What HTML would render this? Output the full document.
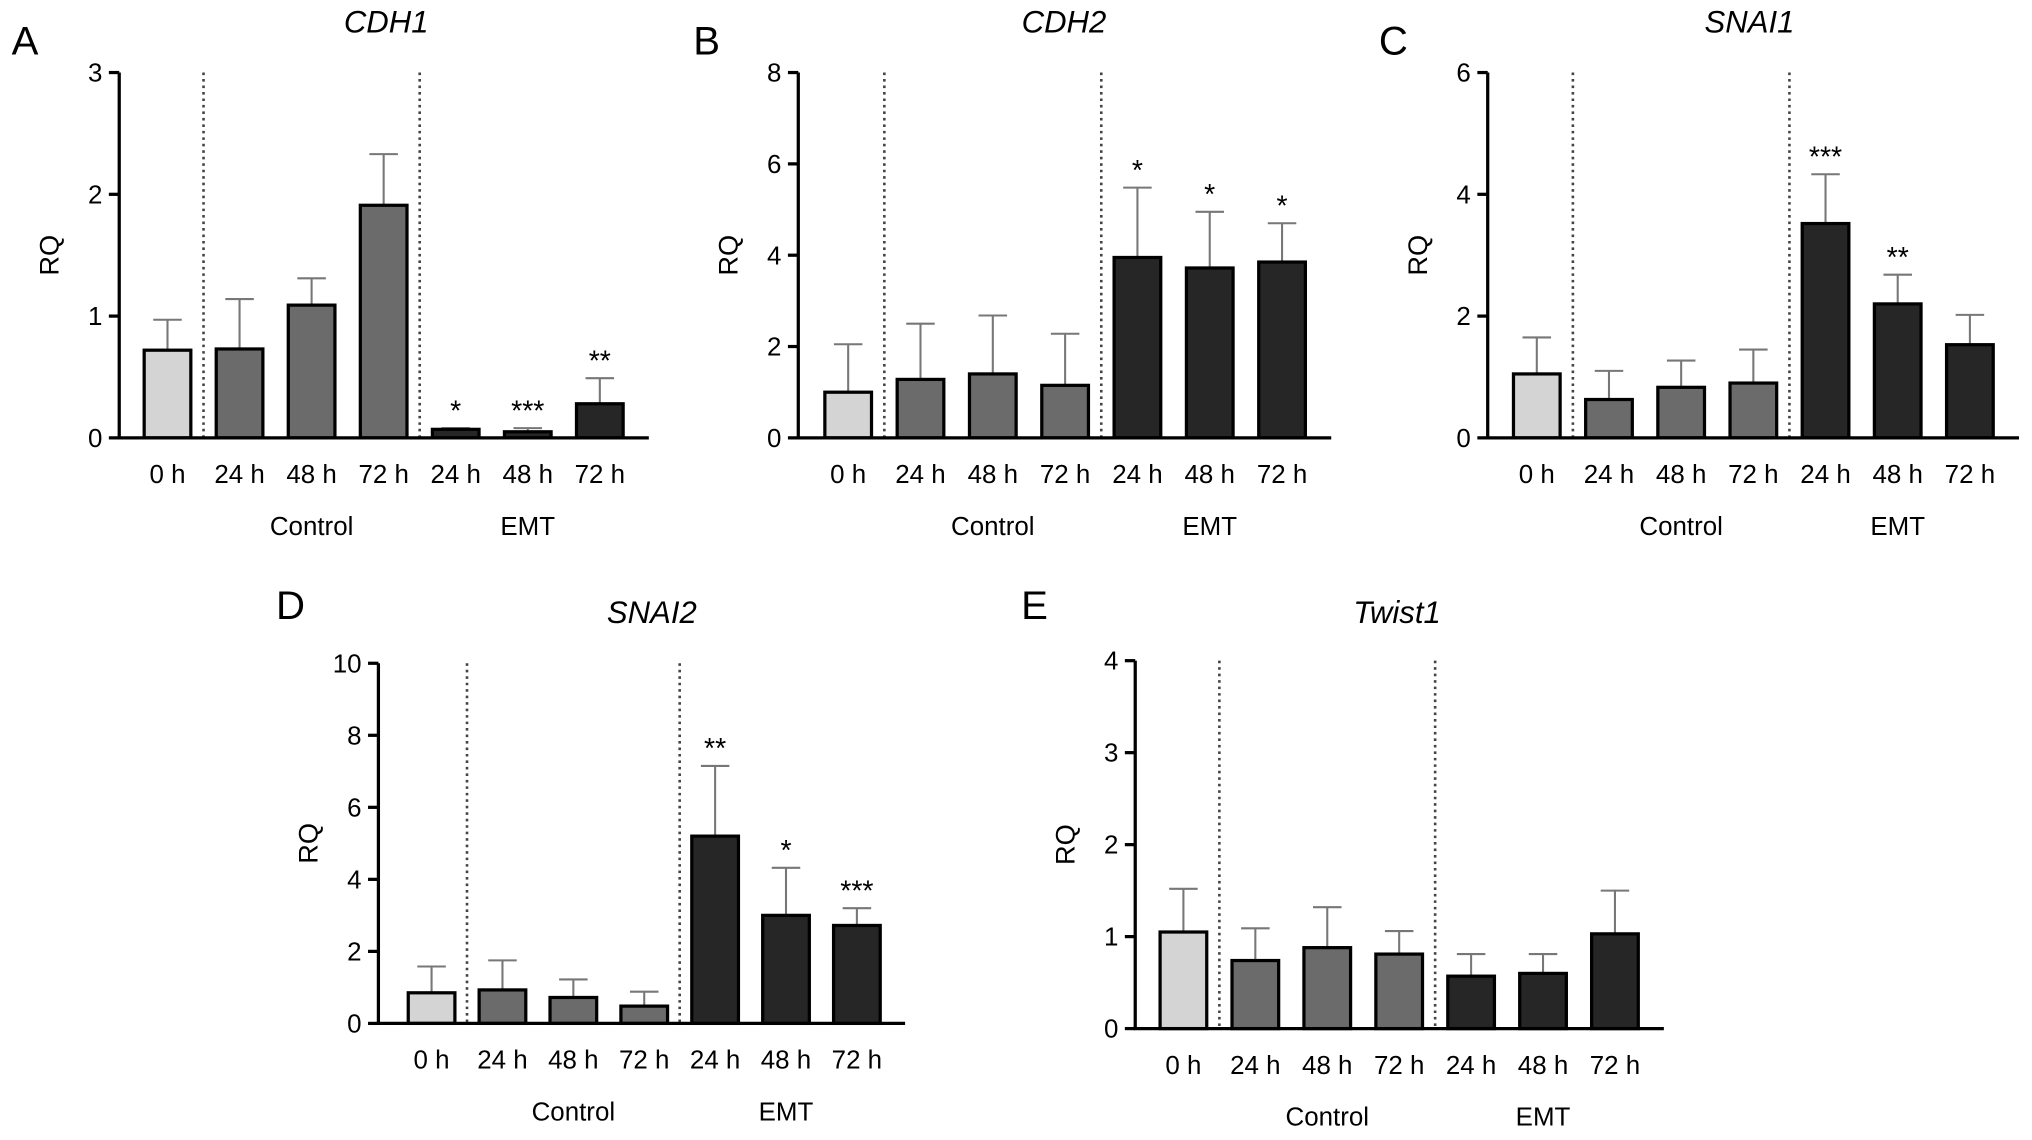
<!DOCTYPE html>
<html><head><meta charset="utf-8">
<style>
html,body{margin:0;padding:0;background:#fff;}
svg{display:block;font-family:"Liberation Sans",Arial,sans-serif;}
</style></head>
<body>
<svg id="fig" width="2032" height="1140" viewBox="0 0 1568 880" preserveAspectRatio="none" xmlns="http://www.w3.org/2000/svg"></svg>
<script>
const categories = ["0 h","24 h","48 h","72 h","24 h","48 h","72 h"];
const groups = ["base","ctrl","ctrl","ctrl","emt","emt","emt"];
const cdh1Values = [0.72,0.73,1.09,1.91,0.07,0.05,0.28];
const cdh1Errors = [0.25,0.41,0.22,0.42,0.01,0.03,0.21];
const cdh1Stars = ["","","","","*","***","**"];
const cdh1Ticks = [0,1,2,3];
const cdh2Values = [1.0,1.28,1.4,1.15,3.95,3.72,3.85];
const cdh2Errors = [1.05,1.22,1.28,1.13,1.53,1.23,0.85];
const cdh2Stars = ["","","","","*","*","*"];
const cdh2Ticks = [0,2,4,6,8];
const snai1Values = [1.05,0.63,0.83,0.9,3.52,2.2,1.53];
const snai1Errors = [0.6,0.47,0.44,0.55,0.81,0.48,0.49];
const snai1Stars = ["","","","","***","**",""];
const snai1Ticks = [0,2,4,6];
const snai2Values = [0.85,0.93,0.72,0.48,5.2,3.0,2.72];
const snai2Errors = [0.73,0.82,0.5,0.4,1.95,1.32,0.48];
const snai2Stars = ["","","","","**","*","***"];
const snai2Ticks = [0,2,4,6,8,10];
const twist1Values = [1.05,0.74,0.88,0.81,0.57,0.6,1.03];
const twist1Errors = [0.47,0.35,0.44,0.25,0.24,0.21,0.47];
const twist1Stars = ["","","","","","",""];
const twist1Ticks = [0,1,2,3,4];

const NS="http://www.w3.org/2000/svg";
const svg=document.getElementById('fig');
function mk(tag,attrs,parent){const e=document.createElementNS(NS,tag);for(const k in attrs)e.setAttribute(k,attrs[k]);(parent||svg).appendChild(e);return e;}
const fills={base:"#d4d4d4",ctrl:"#6b6b6b",emt:"#262626"};

function panel(cfg){
  const g=mk('g',{});
  
  
  const max=cfg.ticks[cfg.ticks.length-1];
  const off=cfg.off;
  const y=v=>cfg.y0-(v/max)*(cfg.y0-cfg.yTop);
  const x=i=>cfg.x0+cfg.step*(i+off);
  const xEnd=x(6)+cfg.step*0.68;
  const bw=36;
  let t=mk('text',{x:cfg.letterX,y:cfg.letterY,'font-size':31,fill:'#000'},g);t.textContent=cfg.letter;
  
  t=mk('text',{x:cfg.titleX,y:cfg.titleY,'font-size':24,'font-style':'italic','text-anchor':'middle'},g);t.textContent=cfg.title;
  
  t=mk('text',{x:0,y:0,'font-size':21,'text-anchor':'middle',transform:`translate(${cfg.x0-47},${(cfg.y0+cfg.yTop)/2}) rotate(-90)`},g);t.textContent='RQ';
  
  [0.5,3.5].forEach(p=>{const xx=x(p);
    const l=mk('line',{x1:xx,x2:xx,y1:cfg.yTop,y2:cfg.y0,stroke:'#444','stroke-width':2,'stroke-dasharray':'2,3'},g);
    });
  cfg.values.forEach((v,i)=>{
    const cx=x(i),top=y(v+cfg.errors[i]);
    const e=mk('path',{d:`M${cx},${y(v)} V${top} M${cx-11},${top} H${cx+11}`,stroke:'#777','stroke-width':1.6,fill:'none'},g);
    
    const r=mk('rect',{x:cx-bw/2,y:y(v),width:bw,height:Math.max(cfg.y0-y(v),0),fill:fills[groups[i]],stroke:'#000','stroke-width':2.5},g);
    
    if(cfg.stars[i]){const s=mk('text',{x:cx,y:top-6,'font-size':22,'text-anchor':'middle'},g);s.textContent=cfg.stars[i];
      }
    const tl=mk('text',{x:cx,y:cfg.y0+35,'font-size':20,'text-anchor':'middle'},g);tl.textContent=categories[i];
    
  });
  const ax=mk('path',{d:`M${cfg.x0},${cfg.yTop} V${cfg.y0} H${xEnd}`,stroke:'#000','stroke-width':2.5,fill:'none'},g);
  
  cfg.ticks.forEach(tv=>{mk('line',{x1:cfg.x0-8,x2:cfg.x0,y1:y(tv),y2:y(tv),stroke:'#000','stroke-width':2.5},g);
    const tt=mk('text',{x:cfg.x0-13,y:y(tv)+7,'font-size':20,'text-anchor':'end'},g);tt.textContent=tv;
    });
  const c=mk('text',{x:x(2),y:cfg.y0+75,'font-size':20,'text-anchor':'middle'},g);c.textContent='Control';
  
  const em=mk('text',{x:x(5),y:cfg.y0+75,'font-size':20,'text-anchor':'middle'},g);em.textContent='EMT';
  
}
panel({id:'cdh1',letter:'A',letterX:9,letterY:42,title:'CDH1',titleX:298,titleY:25,x0:92,y0:338,yTop:56,step:55.6,off:0.67,values:cdh1Values,errors:cdh1Errors,stars:cdh1Stars,ticks:cdh1Ticks});
panel({id:'cdh2',letter:'B',letterX:535,letterY:42,title:'CDH2',titleX:821,titleY:25,x0:616,y0:338,yTop:56,step:55.8,off:0.69,values:cdh2Values,errors:cdh2Errors,stars:cdh2Stars,ticks:cdh2Ticks});
panel({id:'snai1',letter:'C',letterX:1064,letterY:42,title:'SNAI1',titleX:1350,titleY:25,x0:1148,y0:338,yTop:56,step:55.7,off:0.68,values:snai1Values,errors:snai1Errors,stars:snai1Stars,ticks:snai1Ticks});
panel({id:'snai2',letter:'D',letterX:213,letterY:478,title:'SNAI2',titleX:503,titleY:481,x0:292,y0:790,yTop:512,step:54.7,off:0.75,values:snai2Values,errors:snai2Errors,stars:snai2Stars,ticks:snai2Ticks});
panel({id:'twist1',letter:'E',letterX:788,letterY:478,title:'Twist1',titleX:1078,titleY:481,x0:876,y0:794,yTop:510,step:55.5,off:0.67,values:twist1Values,errors:twist1Errors,stars:twist1Stars,ticks:twist1Ticks});
</script>
</body></html>
